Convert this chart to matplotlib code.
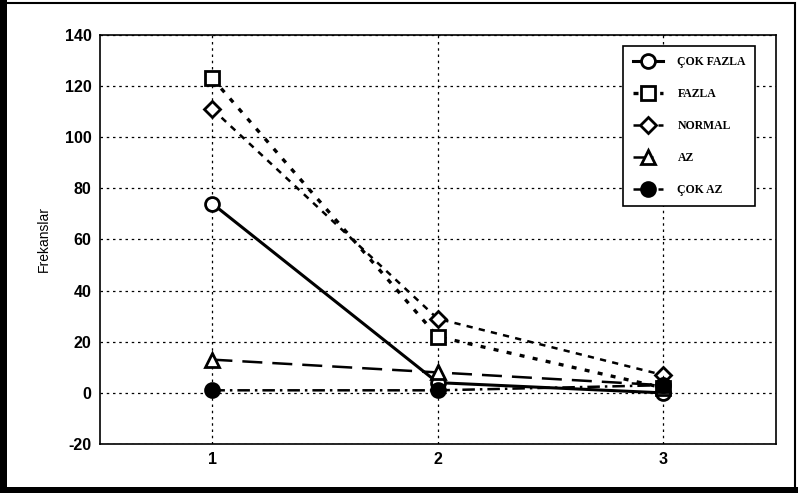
import matplotlib.pyplot as plt
from matplotlib.patches import Rectangle

# Donnees
x = [1, 2, 3]
cok_fazla = [74, 4, 0]
fazla = [123, 22, 2]
normal = [111, 29, 7]
az = [13, 8, 3]
cok_az = [1, 1, 3]

labels = ['ÇOK FAZLA', 'FAZLA', 'NORMAL', 'AZ', 'ÇOK AZ']

plt.rcParams['font.family'] = ['Liberation Sans', 'DejaVu Sans']
plt.rcParams['axes.unicode_minus'] = False

fig = plt.figure(figsize=(7.98, 4.93), dpi=100)
ax = fig.add_axes([0.125, 0.0994, 0.847, 0.8296])

ax.plot(x, cok_fazla, color='black', linestyle='-', linewidth=2.2,
        marker='o', markersize=10, markerfacecolor='white', markeredgewidth=2,
        label=labels[0])
ax.plot(x, fazla, color='black', linestyle=(0, (1.5, 2.5)), linewidth=2.4,
        marker='s', markersize=10, markerfacecolor='white', markeredgewidth=2,
        label=labels[1])
ax.plot(x, normal, color='black', linestyle=(0, (2.5, 2.5)), linewidth=1.8,
        marker='D', markersize=8, markerfacecolor='white', markeredgewidth=2,
        label=labels[2])
ax.plot(x, az, color='black', linestyle=(0, (8, 4)), linewidth=1.8,
        marker='^', markersize=10, markerfacecolor='white', markeredgewidth=2,
        label=labels[3])
ax.plot(x, cok_az, color='black', linestyle=(0, (5, 2, 1, 2)), linewidth=1.8,
        marker='o', markersize=10, markerfacecolor='black', markeredgewidth=2,
        label=labels[4])

ax.set_xlim(0.5, 3.5)
ax.set_ylim(-20, 140)
ax.set_xticks([1, 2, 3])
ax.set_yticks(range(-20, 141, 20))
ax.tick_params(axis='both', labelsize=11.5, length=0, pad=6)
for t in ax.get_xticklabels() + ax.get_yticklabels():
    t.set_fontweight('bold')

ax.grid(True, color='black', linestyle=(0, (2, 3)), linewidth=0.9)
for s in ax.spines.values():
    s.set_linewidth(1.2)
    s.set_color('black')

ax.set_ylabel('Frekanslar', fontsize=10, labelpad=10)

leg = ax.legend(loc='upper right', bbox_to_anchor=(0.97, 0.972), borderaxespad=0,
                frameon=True, fancybox=False, edgecolor='black', handlelength=2.6,
                labelspacing=1.7, borderpad=0.8, handletextpad=1.2,
                prop={'family': 'Liberation Serif', 'weight': 'bold', 'size': 8.5})
leg.get_frame().set_linewidth(1.2)
leg.get_frame().set_alpha(1)

# Cadre noir autour de la figure
fig.patches.append(Rectangle((0.004, 0.008), 0.992, 0.986, transform=fig.transFigure,
                             fill=False, edgecolor='black', linewidth=1.5))
fig.patches.append(Rectangle((0.0, 0.0), 0.009, 1.0, transform=fig.transFigure,
                             facecolor='black', edgecolor='none'))
fig.patches.append(Rectangle((0.0, 0.0), 1.0, 0.012, transform=fig.transFigure,
                             facecolor='black', edgecolor='none'))

plt.savefig('out.png', dpi=100)
